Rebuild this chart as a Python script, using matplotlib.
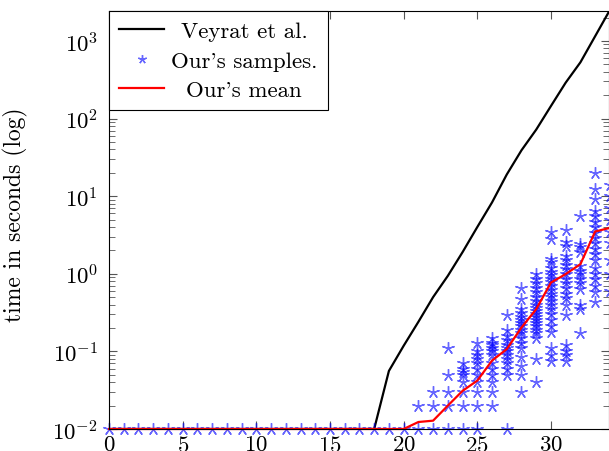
import numpy as np
import matplotlib
matplotlib.use("Agg")
import matplotlib.pyplot as plt

plt.rcParams['font.family'] = ['cmr10', 'DejaVu Serif']
plt.rcParams['mathtext.fontset'] = 'cm'
plt.rcParams['axes.formatter.use_mathtext'] = True

# run time of the reference method (seconds)
veyrat_x = list(range(0, 35))
veyrat_t = [0.01] * 19 + [0.056, 0.118, 0.24, 0.5, 0.94, 1.9, 4.0, 8.3, 19, 39,
                          72, 145, 290, 530, 1150, 2500]

# mean of our samples
mean_x = list(range(0, 35))
mean_t = [0.01] * 21 + [0.0123, 0.0128, 0.02, 0.031, 0.042, 0.076, 0.107, 0.203,
                        0.35, 0.77, 0.99, 1.33, 3.5, 3.9]

# individual samples, one list per size
samples = {}
for n in range(0, 21):
    samples[n] = [0.01]
samples[21] = [0.01, 0.02]
samples[22] = [0.01, 0.02, 0.03]
samples[23] = [0.01, 0.02, 0.03, 0.05, 0.11]
samples[24] = [0.01, 0.02, 0.03, 0.04, 0.05, 0.055, 0.06, 0.07]
samples[25] = [0.01, 0.02, 0.03, 0.04, 0.05, 0.06, 0.07, 0.08, 0.09, 0.1, 0.13]
samples[26] = [0.02, 0.03, 0.04, 0.05, 0.06, 0.07, 0.09, 0.1, 0.11, 0.12, 0.13, 0.15]
samples[27] = [0.01, 0.05, 0.06, 0.07, 0.08, 0.09, 0.1, 0.11, 0.12, 0.14, 0.16, 0.19, 0.29]
samples[28] = [0.03, 0.05, 0.065, 0.085, 0.11, 0.13, 0.15, 0.17, 0.19, 0.21, 0.23,
               0.25, 0.28, 0.31, 0.35, 0.47, 0.66]
samples[29] = [0.04, 0.08, 0.15, 0.17, 0.19, 0.21, 0.23, 0.25, 0.28, 0.3, 0.33,
               0.36, 0.4, 0.45, 0.5, 0.58, 0.65, 0.75, 0.85, 1.0]
samples[30] = [0.075, 0.09, 0.11, 0.18, 0.21, 0.25, 0.3, 0.35, 0.4, 0.45, 0.5,
               0.55, 0.62, 0.7, 0.78, 0.85, 0.95, 1.05, 1.2, 1.4, 1.55, 2.8, 3.5]
samples[31] = [0.075, 0.09, 0.1, 0.12, 0.29, 0.4, 0.48, 0.55, 0.65, 0.75, 0.85,
               1.0, 1.15, 1.3, 1.5, 1.7, 2.3, 2.6, 3.7]
samples[32] = [0.17, 0.35, 0.4, 0.63, 0.75, 0.85, 1.0, 1.1, 1.27, 1.9, 2.2, 2.4, 5.5]
samples[33] = [0.43, 0.58, 0.7, 0.85, 1.0, 1.2, 1.5, 1.8, 2.1, 2.5, 2.9, 3.4, 4.0,
               4.6, 5.5, 6.5, 9.2, 12.4, 20]
samples[34] = [0.6, 1.0, 1.5, 2.5, 3.5, 5, 7, 10, 14]

sx = []
sy = []
for n, vals in samples.items():
    sx += [n] * len(vals)
    sy += vals

fs = 16.5

fig = plt.figure(figsize=(6.09, 4.52), dpi=100)
ax = fig.add_axes([0.179, 0.0487, 0.821, 0.9248])

ax.plot(veyrat_x, veyrat_t, color='black', lw=1.6, label='Veyrat et al.')
ax.plot(sx, sy, ls='none', marker=(5, 2, 0), ms=9, mew=1.0, color='blue',
        alpha=0.6, clip_on=False, label="Our's samples.")
ax.plot(mean_x, mean_t, color='red', lw=1.6, clip_on=False, label="Our's mean")

ax.set_yscale('log')
ax.set_xlim(0, 33.94)
ax.set_ylim(0.01, 2430)
ax.set_xticks([0, 5, 10, 15, 20, 25, 30])
ax.set_yticks([1e-2, 1e-1, 1e0, 1e1, 1e2, 1e3])

ax.tick_params(which='both', direction='in', top=True, right=True,
               color='#555555', labelsize=fs)
ax.tick_params(which='major', length=6, width=0.8)
ax.tick_params(which='minor', length=4, width=0.6)
ax.tick_params(axis='x', pad=4)
ax.tick_params(axis='y', pad=8)

ax.set_ylabel('time in seconds (log)', fontsize=17)
ax.yaxis.set_label_coords(-0.162, 0.514)

leg = ax.legend(loc='upper left', borderaxespad=0, fancybox=False,
                edgecolor='black', framealpha=1, fontsize=fs, numpoints=1,
                markerscale=0.7, handlelength=1.95, handletextpad=0.3,
                labelspacing=0.4, borderpad=0.45)
leg.get_frame().set_linewidth(0.8)

# center the legend labels in their column
fig.canvas.draw()
widths = [t.get_window_extent().width for t in leg.get_texts()]
for t, w in zip(leg.get_texts(), widths):
    t.set_position(((max(widths) - w) / 2, 0))

plt.savefig('out.png', dpi=100)
